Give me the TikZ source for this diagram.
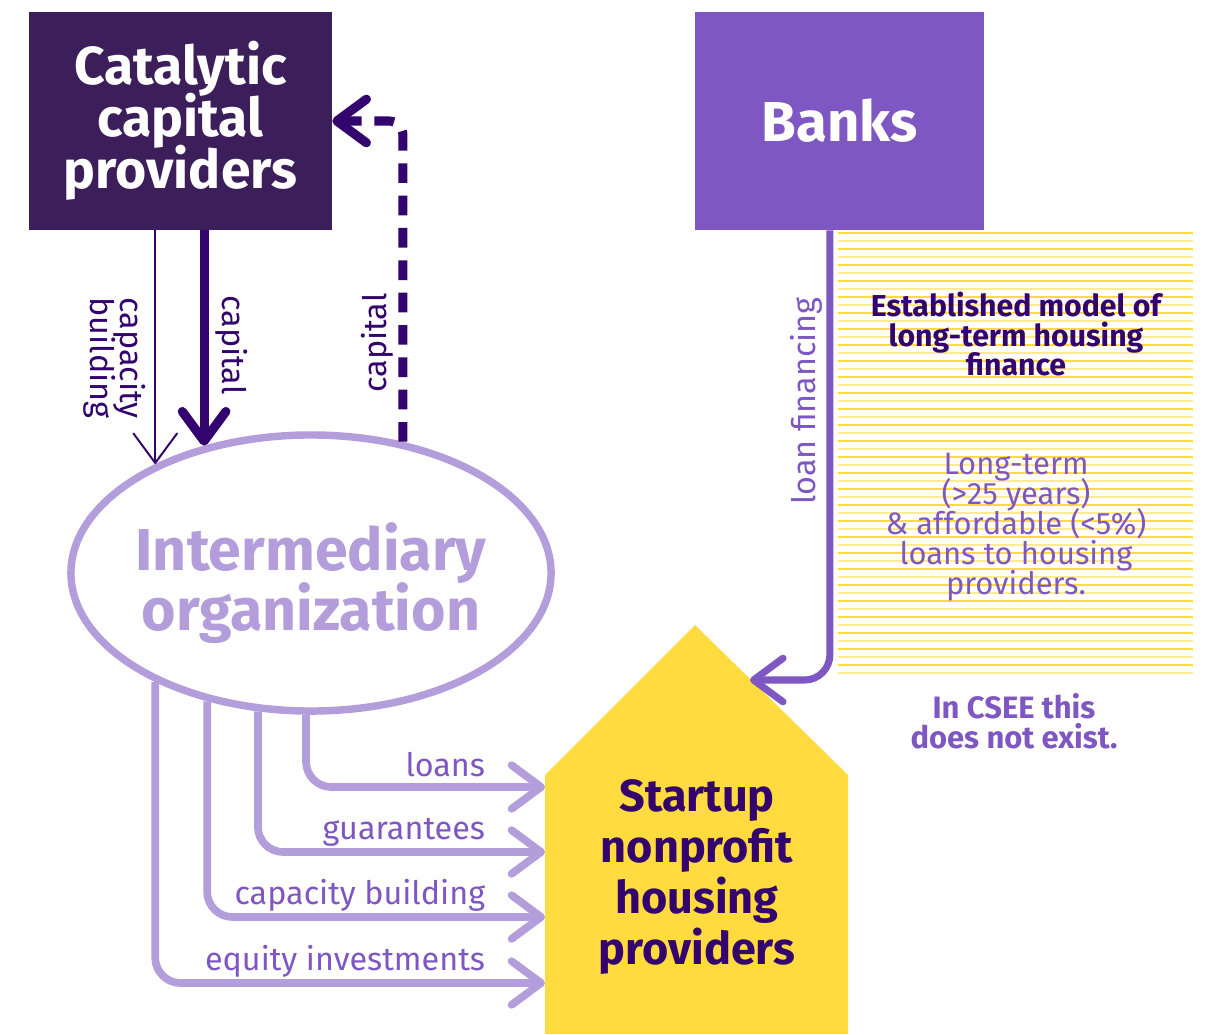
\documentclass[tikz,border=0pt]{standalone}
\usepackage{fontspec}
\setmainfont{Fira Sans}
\usepackage{xcolor}
\usetikzlibrary{arrows.meta,shapes.geometric}
\definecolor{deep}{HTML}{3B1E5A}
\definecolor{ink}{HTML}{33036E}
\definecolor{mid}{HTML}{7E57C2}
\definecolor{pale}{HTML}{B39DDB}
\definecolor{sun}{HTML}{FFDB3F}
\definecolor{sunlight}{HTML}{FFEA94}
\setlength{\lineskiplimit}{-20pt}

\begin{document}
\begin{tikzpicture}[x=0.025cm,y=-0.025cm,
	barb/.style={-{Straight Barb[length=21pt,width=31pt,line cap=round,line join=round]}},
	flow/.style={barb,draw=pale,line width=5.5pt,rounded corners=18pt},
	lbl/.style={font=\fontsize{23}{21.5}\selectfont},
	note/.style={align=center,font=\fontsize{22}{21.3}\selectfont},
	box/.style={rectangle,minimum width=7.575cm,minimum height=5.45cm,inner sep=0,text=white,align=center,font=\bfseries\fontsize{38}{37}\selectfont}]
	\useasboundingbox (0,0) rectangle (1208,1034);

	\foreach \i in {0,...,55}{
		\pgfmathsetmacro\yy{233+\i*8}
		\ifodd\i \def\hc{sunlight}\else\def\hc{sun}\fi
		\draw[\hc,line width=1.1pt] (838,\yy) -- (1193,\yy);
	}

	\node[box,fill=deep] at (180.5,121)(cc){Catalytic\\capital\\providers};
	\node[box,fill=mid,minimum width=7.225cm,font=\bfseries\fontsize{40}{40}\selectfont] at (839.5,121)(bk){Banks};
	\node[ellipse,draw=pale,line width=5.3pt,fill=white,minimum width=12cm,minimum height=6.9cm,inner sep=0] at (311,573)(io){};
	\node[text=pale,align=center,font=\bfseries\fontsize{42}{43}\selectfont] at (311,583)(iot){Intermediary\\organization};

	\fill[sun] (545,1034) -- (545,775) -- (695,625) -- (848,775) -- (848,1034) -- cycle;
	\node[text=ink,align=center,font=\bfseries\fontsize{32}{36.5}\selectfont] at (697,877)(sn){Startup\\nonprofit\\housing\\providers};
	\coordinate (w1) at (545,787);
	\coordinate (w2) at (545,852);
	\coordinate (w3) at (545,917);
	\coordinate (w4) at (545,983);
	\coordinate (rf) at (750,680);

	\draw[barb,ink,line width=1.4pt] (cc.south -| io.145) -- (io.145);
	\draw[barb,ink,line width=6.5pt] (cc.south -| io.130) -- (io.130);
	\draw[barb,ink,line width=6.5pt,dash pattern=on 14pt off 9pt,rounded corners=10pt] (io.55) |- (cc.east);
	\node[lbl,text=ink,rotate=-90,align=center] at (115,358)(t1){capacity\\building};
	\node[lbl,text=ink,rotate=-90] at (232,345)(t2){capital};
	\node[lbl,text=ink,rotate=90] at (377,343)(t3){capital};

	\draw[barb,mid,line width=5pt,rounded corners=18pt] ([xshift=-0.24cm]bk.south) |- (rf);
	\node[lbl,text=mid,rotate=90] at (806,401)(t4){loan financing};

	\draw[flow] (io.268) |- (w1);
	\draw[flow] (io.249) |- (w2);
	\draw[flow] (io.231) |- (w3);
	\draw[flow] (io.215) |- (w4);
	\node[lbl,text=mid,anchor=base east] at (490,776)(l1){loans};
	\node[lbl,text=mid,anchor=base east] at (490,839)(l2){guarantees};
	\node[lbl,text=mid,anchor=base east] at (490,904)(l3){capacity building};
	\node[lbl,text=mid,anchor=base east] at (490,970)(l4){equity investments};

	\node[note,text=ink,font=\bfseries\fontsize{21.5}{21.3}\selectfont] at (1016,334)(m1){Established model of\\long-term housing\\finance};
	\node[note,text=mid] at (1016,527)(m2){Long-term\\(>25 years)\\\& affordable (<5\%)\\loans to housing\\providers.};
	\node[note,text=mid,font=\bfseries\fontsize{22}{21.3}\selectfont] at (1014,721)(m3){In CSEE this\\does not exist.};
\end{tikzpicture}
\end{document}
